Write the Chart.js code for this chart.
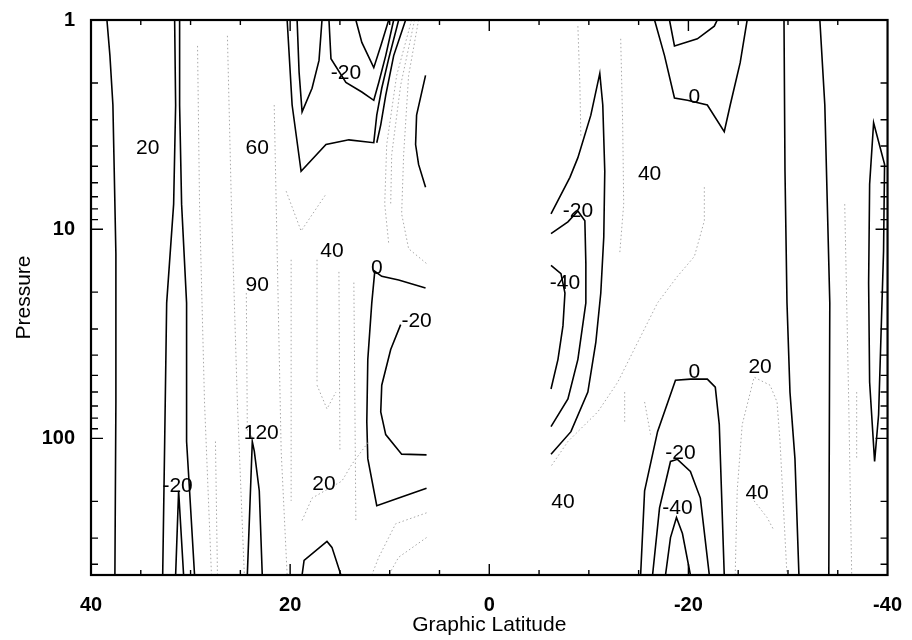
<!DOCTYPE html>
<html>
<head>
<meta charset="utf-8">
<title>Pressure vs Graphic Latitude</title>
<script src="https://cdn.jsdelivr.net/npm/chart.js@4.4.1/dist/chart.umd.min.js"></script>
<style>
  html, body { margin: 0; padding: 0; background: #fff; }
  #wrap { width: 912px; height: 640px; }
</style>
</head>
<body>
<div id="wrap"><canvas id="myChart" width="912" height="640"></canvas></div>
<script>
// axis labels and tick marks
const latLabels = [40, 20, 0, -20, -40];
const pressureLabels = [1, 10, 100];
const latTicks = [35, 30, 25, 20, 15, 10, 5, 0, -5, -10, -15, -20, -25, -30, -35];
const pressureTicks = [2, 3, 4, 5, 6, 7, 8, 9, 10, 20, 30, 40, 50, 60, 70, 80, 90, 100, 200, 300, 400];

// solid contours, [latitude, pressure]
const edge38 = [[38.4, 1], [38.1, 1.48], [37.8, 2.55], [37.7, 4.4], [37.5, 13.1], [37.5, 67], [37.6, 450]];
const edge32a = [[31.6, 1], [31.5, 2.55], [31.7, 7.59], [32.4, 22.5], [32.6, 103.5], [32.8, 450]];
const edge32b = [[31.1, 1], [31.1, 2.55], [30.9, 7.59], [30.4, 22.5], [30.4, 103.5], [30.1, 178], [29.6, 450]];
const spike31 = [[31.5, 450], [31.2, 178], [30.7, 450]];
const spike24 = [[24.3, 450], [23.8, 103.5], [23.6, 115], [23.1, 178], [22.8, 450]];
const zeroTopN = [[20.3, 1], [19.8, 2.55], [18.9, 5.29], [16.4, 3.94], [14.1, 3.74], [11.6, 3.86], [11.3, 2.85], [10.8, 2.12], [10.1, 1.53], [9.1, 1]];
const zeroTopN2 = [[8.4, 1], [9.6, 1.48], [10.4, 2.29], [10.9, 3.17], [11.3, 3.86]];
const m20TopN = [[16.1, 1], [15.9, 1.53], [14.4, 1.99], [12.8, 2.21], [11.6, 2.42], [11.1, 1.99], [10.4, 1.48], [9.6, 1]];
const m40TopN = [[13.4, 1], [12.8, 1.28], [11.6, 1.69], [10.9, 1.33], [10.1, 1]];
const m20TopN2 = [[19.3, 1], [19.1, 1.78], [18.8, 2.75], [17.8, 2.12], [17.1, 1.56], [16.8, 1]];
const arcTopN = [[6.4, 1.84], [7.3, 2.85], [7.4, 3.94], [7.1, 4.9], [6.4, 6.3]];
const zeroMidN = [[6.4, 19.1], [9.1, 17.5], [10.8, 16.8], [11.5, 15.9], [11.8, 22.5], [12.2, 41.9], [12.3, 83.3], [12.2, 125], [11.3, 210], [9.1, 193], [6.3, 173]];
const m20MidN = [[8.9, 28.6], [9.9, 37.6], [10.8, 55.7], [10.9, 74.7], [10.4, 95.9], [8.8, 119], [6.3, 120]];
const bumpN = [[18.8, 450], [18.6, 383], [16.3, 311], [15.8, 332], [14.9, 450]];
const zeroMidS = [[-6.2, 8.45], [-8.1, 5.65], [-8.9, 4.55], [-10.2, 2.85], [-11.1, 1.8], [-11.4, 2.55], [-11.6, 5.29], [-11.5, 10.9], [-11.2, 20.2], [-10.7, 34.8], [-9.9, 60.1], [-8.2, 92.9], [-6.2, 119]];
const m20MidS = [[-6.2, 10.5], [-7.9, 9.22], [-8.9, 8.18], [-9.6, 9.12], [-9.7, 14.6], [-9.7, 22.5], [-8.9, 41.9], [-7.9, 64.8], [-6.2, 87.9]];
const m40MidS = [[-6.2, 14.9], [-7.2, 16.3], [-7.6, 20.2], [-7.4, 29], [-6.9, 41.9], [-6.2, 58.1]];
const zeroTopS = [[-16.6, 1], [-17.6, 1.48], [-18.6, 2.36], [-19.9, 2.42], [-21.9, 2.55], [-23.6, 3.42], [-24.2, 2.55], [-25.2, 1.6], [-25.9, 1]];
const innerTopS = [[-18.1, 1], [-18.6, 1.33], [-20.9, 1.23], [-22.6, 1.07], [-22.9, 1]];
const edge30S = [[-29.6, 1], [-29.7, 5.29], [-29.9, 22.5], [-30.2, 60.1], [-30.7, 125], [-31.1, 450]];
const edge34S = [[-33.2, 1], [-33.7, 2.55], [-34.2, 22.5], [-34.1, 450]];
const loop39S = [[-38.7, 129], [-38.2, 53.9], [-38.1, 18.1], [-38.2, 6.1], [-38.6, 3.1], [-39.7, 4.9], [-39.6, 12.7], [-39.1, 77.1], [-38.7, 129]];
const zeroLowS = [[-15.2, 450], [-15.6, 178], [-16.9, 92.9], [-18.7, 52.7], [-20.2, 52.1], [-21.9, 52.1], [-22.7, 56.9], [-23.1, 86], [-23.6, 450]];
const m20LowS = [[-16.4, 450], [-17.1, 215], [-18.2, 129], [-18.9, 126], [-20.2, 144], [-21.2, 193], [-22.1, 450]];
const m40LowS = [[-17.7, 450], [-18.2, 298], [-18.8, 239], [-19.4, 285], [-20.2, 450]];

// dotted (positive) contours
const dot29 = [[29.3, 1.33], [29.1, 7.59], [28.6, 67], [27.9, 450]];
const dot27 = [[27.5, 103.5], [27.3, 450]];
const dot26 = [[26.3, 1.19], [25.9, 7.59], [25.3, 67], [24.6, 450]];
const dot24 = [[24.4, 20.2], [24.3, 92.9]];
const dot21 = [[21.6, 2.55], [21.3, 13.1], [20.9, 115], [20.3, 450]];
const dot20 = [[19.9, 14], [19.9, 199]];
const dot17 = [[17.3, 14], [17.3, 53.9]];
const dot15 = [[15.1, 16], [15, 115]];
const dot13 = [[13.6, 18], [13.4, 247]];
const dotVeeHigh = [[20.4, 6.58], [18.9, 10.2], [16.4, 6.8]];
const dotVeeLow = [[17.3, 55.7], [16.3, 72.3], [15.4, 60.1]];
const dot20Low = [[18.8, 247], [17.8, 193], [14.8, 160], [13.8, 133], [12.1, 103.5]];
const dotArcA = [[7.8, 1], [9.3, 1.84], [10.3, 3.94], [10.5, 7.59], [10.1, 11.7]];
const dotArcB = [[7.1, 1], [8.1, 1.84], [8.6, 4.4], [8.8, 8.45], [8.1, 12.4], [6.3, 14.6]];
const dotArcC = [[7.5, 1], [8.9, 2.05], [9.8, 4.4], [9.9, 7.59]];
const dotFloorA = [[6.3, 227], [9.4, 256], [11.1, 370], [11.8, 450]];
const dotFloorB = [[6.3, 298], [9.1, 370], [10.1, 450]];
const dot9S = [[-8.9, 1.07], [-9.1, 2.05], [-9.2, 3.65]];
const dot13S = [[-13.2, 1.23], [-13.4, 3.17], [-13.5, 7.59], [-13.1, 13.1]];
const dot14S = [[-13.6, 60.1], [-13.6, 83.3]];
const dot16S = [[-15.6, 67], [-16.2, 95.9]];
const dotArcS = [[-21.6, 6.3], [-21.6, 9.12], [-20.6, 13.5], [-18.9, 16.8], [-16.9, 22.5], [-14.9, 34.8], [-12.9, 53.9], [-10.9, 74.7], [-7.9, 103.5], [-6.2, 136]];
const dotArch20 = [[-24.7, 450], [-24.9, 178], [-25.4, 86], [-26.6, 51], [-28.2, 55.7], [-28.9, 67], [-29.2, 103.5], [-29.9, 450]];
const dot40S = [[-26.6, 199], [-27.9, 239], [-28.6, 276]];
const dot36S = [[-35.7, 7.59], [-36.1, 67], [-36.4, 450]];
const dot37S = [[-36.9, 60.1], [-36.9, 125]];

// contour labels: [level, latitude, pressure]
const contourLabels = [
  [20, 34.3, 4.08], [60, 23.3, 4.08], [-20, 14.4, 1.8], [40, 15.8, 12.8], [0, 11.3, 15.4],
  [90, 23.3, 18.5], [-20, 7.3, 27.4], [120, 22.9, 94.9], [-20, 31.3, 169], [20, 16.6, 165],
  [0, -20.6, 2.34], [40, -16.1, 5.47], [-20, -8.9, 8.18], [-40, -7.6, 18.1], [0, -20.6, 48.3],
  [20, -27.2, 45.7], [-20, -19.2, 118], [40, -7.4, 203], [-40, -18.9, 215], [40, -26.9, 182]
];

const solidPaths = [edge38, edge32a, edge32b, spike31, spike24, zeroTopN, zeroTopN2, m20TopN, m40TopN,
  m20TopN2, arcTopN, zeroMidN, m20MidN, bumpN, zeroMidS, m20MidS, m40MidS, zeroTopS, innerTopS,
  edge30S, edge34S, loop39S, zeroLowS, m20LowS, m40LowS];
const dottedPaths = [dot29, dot27, dot26, dot24, dot21, dot20, dot17, dot15, dot13, dotVeeHigh, dotVeeLow,
  dot20Low, dotArcA, dotArcB, dotArcC, dotFloorA, dotFloorB, dot9S, dot13S, dot14S, dot16S, dotArcS,
  dotArch20, dot40S, dot36S, dot37S];

const FONT = '"Liberation Sans", Arial, Helvetica, sans-serif';
const toPoints = path => path.map(([lat, p]) => ({ x: lat, y: p }));

const datasets = [];
dottedPaths.forEach(path => datasets.push({
  data: toPoints(path),
  showLine: true,
  borderColor: '#a8a8a8',
  borderWidth: 1,
  borderDash: [1.5, 2.5],
  pointRadius: 0,
  tension: 0
}));
solidPaths.forEach(path => datasets.push({
  data: toPoints(path),
  showLine: true,
  borderColor: '#000',
  borderWidth: 1.6,
  pointRadius: 0,
  tension: 0
}));

// box frame with inward ticks, plus the contour level labels
const frameAndLabels = {
  id: 'frameAndLabels',
  afterDatasetsDraw(chart) {
    const { ctx, chartArea: a, scales: { x, y } } = chart;
    ctx.save();

    ctx.fillStyle = '#000';
    ctx.font = '21px ' + FONT;
    ctx.textAlign = 'center';
    ctx.textBaseline = 'middle';
    contourLabels.forEach(([level, lat, p]) => {
      ctx.fillText(String(level), x.getPixelForValue(lat), y.getPixelForValue(p));
    });

    ctx.strokeStyle = '#000';
    ctx.lineWidth = 1.4;
    ctx.beginPath();
    latTicks.forEach(v => {
      const px = x.getPixelForValue(v);
      const len = v % 20 === 0 ? 11 : 5;
      ctx.moveTo(px, a.bottom); ctx.lineTo(px, a.bottom - len);
      ctx.moveTo(px, a.top); ctx.lineTo(px, a.top + len);
    });
    pressureTicks.forEach(v => {
      const py = y.getPixelForValue(v);
      const len = pressureLabels.includes(v) ? 12 : 7;
      ctx.moveTo(a.left, py); ctx.lineTo(a.left + len, py);
      ctx.moveTo(a.right, py); ctx.lineTo(a.right - len, py);
    });
    ctx.stroke();

    ctx.lineWidth = 2.2;
    ctx.strokeRect(a.left, a.top, a.right - a.left, a.bottom - a.top);
    ctx.restore();
  }
};

const ctx = document.getElementById('myChart').getContext('2d');
const myChart = new Chart(ctx, {
  type: 'scatter',
  data: { datasets: datasets },
  options: {
    responsive: false,
    animation: false,
    layout: { padding: { top: 14, right: 21, left: 0, bottom: 0 } },
    plugins: { legend: { display: false }, tooltip: { enabled: false } },
    scales: {
      x: {
        type: 'linear',
        reverse: true,
        min: -40,
        max: 40,
        afterBuildTicks: s => { s.ticks = latLabels.map(v => ({ value: v })); },
        afterFit: s => { s.height = 65; },
        grid: { display: false },
        border: { display: false },
        ticks: {
          autoSkip: false,
          maxRotation: 0,
          padding: 10,
          color: '#000',
          font: { family: FONT, size: 20, weight: 'bold' },
          callback: v => String(v)
        },
        title: {
          display: true,
          text: 'Graphic Latitude',
          color: '#000',
          padding: { top: 0, bottom: 2 },
          font: { family: FONT, size: 21 }
        }
      },
      y: {
        type: 'logarithmic',
        reverse: true,
        min: 1,
        max: 450,
        afterBuildTicks: s => { s.ticks = pressureLabels.map(v => ({ value: v })); },
        afterFit: s => { s.width = 91; },
        grid: { display: false },
        border: { display: false },
        ticks: {
          autoSkip: false,
          padding: 8,
          color: '#000',
          font: { family: FONT, size: 20, weight: 'bold' },
          callback: v => String(v)
        },
        title: {
          display: true,
          text: 'Pressure',
          color: '#000',
          padding: { top: 12, bottom: 0 },
          font: { family: FONT, size: 21 }
        }
      }
    }
  },
  plugins: [frameAndLabels]
});
</script>
</body>
</html>
